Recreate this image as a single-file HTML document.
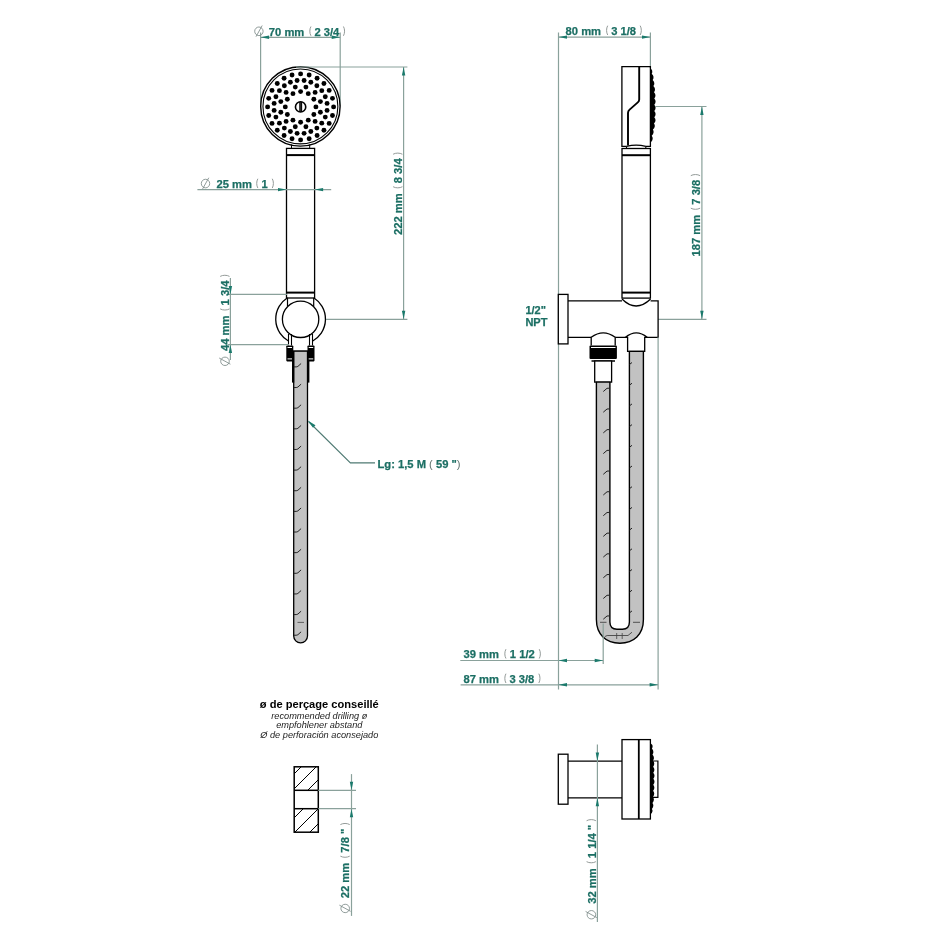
<!DOCTYPE html><html><head><meta charset="utf-8"><style>html,body{margin:0;padding:0;background:#fff;overflow:hidden}svg{display:block;will-change:transform}text{font-family:"Liberation Sans",sans-serif}</style></head><body>
<svg width="936" height="936" viewBox="0 0 936 936">
<rect width="936" height="936" fill="#fff"/>
<line x1="260.60" y1="32.50" x2="260.60" y2="106.00" stroke="#8aa19b" stroke-width="1.20"/>
<line x1="340.20" y1="32.50" x2="340.20" y2="106.00" stroke="#8aa19b" stroke-width="1.20"/>
<line x1="260.60" y1="37.30" x2="340.20" y2="37.30" stroke="#8aa19b" stroke-width="1.20"/>
<polygon points="260.60,37.30 269.10,35.60 269.10,39.00" fill="#1b7a6c"/>
<polygon points="340.20,37.30 331.70,35.60 331.70,39.00" fill="#1b7a6c"/>
<g>
<g fill="none" stroke="#7d8b89" stroke-width="0.85"><ellipse cx="258.90" cy="31.30" rx="4.2" ry="4.3"/><line x1="256.00" y1="36.70" x2="262.20" y2="25.50"/></g>
<text x="268.85" y="35.50" font-size="11.20" font-weight="bold" fill="#1c6f64" stroke="#1c6f64" stroke-width="0.25" xml:space="preserve">70 mm</text>
<path d="M310.94,26.50 C309.44,29.10 309.44,33.20 310.94,35.80" fill="none" stroke="#949b99" stroke-width="1.0"/>
<text x="314.44" y="35.50" font-size="11.20" font-weight="bold" fill="#1c6f64" stroke="#1c6f64" stroke-width="0.25" xml:space="preserve">2 3/4</text>
<path d="M343.45,26.50 C344.95,29.10 344.95,33.20 343.45,35.80" fill="none" stroke="#949b99" stroke-width="1.0"/>
</g>
<circle cx="300.40" cy="106.40" r="39.7" fill="#fff" stroke="#000" stroke-width="1.4"/>
<circle cx="300.40" cy="106.40" r="37.45" fill="none" stroke="#000" stroke-width="1.1"/>
<circle cx="300.60" cy="91.60" r="2.45" fill="#000"/>
<circle cx="308.25" cy="93.65" r="2.45" fill="#000"/>
<circle cx="313.85" cy="99.25" r="2.45" fill="#000"/>
<circle cx="315.90" cy="106.90" r="2.45" fill="#000"/>
<circle cx="313.85" cy="114.55" r="2.45" fill="#000"/>
<circle cx="308.25" cy="120.15" r="2.45" fill="#000"/>
<circle cx="300.60" cy="122.20" r="2.45" fill="#000"/>
<circle cx="292.95" cy="120.15" r="2.45" fill="#000"/>
<circle cx="287.35" cy="114.55" r="2.45" fill="#000"/>
<circle cx="285.30" cy="106.90" r="2.45" fill="#000"/>
<circle cx="287.35" cy="99.25" r="2.45" fill="#000"/>
<circle cx="292.95" cy="93.65" r="2.45" fill="#000"/>
<circle cx="305.91" cy="87.10" r="2.45" fill="#000"/>
<circle cx="315.10" cy="92.40" r="2.45" fill="#000"/>
<circle cx="320.40" cy="101.59" r="2.45" fill="#000"/>
<circle cx="320.40" cy="112.21" r="2.45" fill="#000"/>
<circle cx="315.10" cy="121.40" r="2.45" fill="#000"/>
<circle cx="305.91" cy="126.70" r="2.45" fill="#000"/>
<circle cx="295.29" cy="126.70" r="2.45" fill="#000"/>
<circle cx="286.10" cy="121.40" r="2.45" fill="#000"/>
<circle cx="280.80" cy="112.21" r="2.45" fill="#000"/>
<circle cx="280.80" cy="101.59" r="2.45" fill="#000"/>
<circle cx="286.10" cy="92.40" r="2.45" fill="#000"/>
<circle cx="295.29" cy="87.10" r="2.45" fill="#000"/>
<circle cx="304.09" cy="80.43" r="2.45" fill="#000"/>
<circle cx="310.82" cy="82.23" r="2.45" fill="#000"/>
<circle cx="316.85" cy="85.72" r="2.45" fill="#000"/>
<circle cx="321.78" cy="90.65" r="2.45" fill="#000"/>
<circle cx="325.27" cy="96.68" r="2.45" fill="#000"/>
<circle cx="327.07" cy="103.41" r="2.45" fill="#000"/>
<circle cx="327.07" cy="110.39" r="2.45" fill="#000"/>
<circle cx="325.27" cy="117.12" r="2.45" fill="#000"/>
<circle cx="321.78" cy="123.15" r="2.45" fill="#000"/>
<circle cx="316.85" cy="128.08" r="2.45" fill="#000"/>
<circle cx="310.82" cy="131.57" r="2.45" fill="#000"/>
<circle cx="304.09" cy="133.37" r="2.45" fill="#000"/>
<circle cx="297.11" cy="133.37" r="2.45" fill="#000"/>
<circle cx="290.38" cy="131.57" r="2.45" fill="#000"/>
<circle cx="284.35" cy="128.08" r="2.45" fill="#000"/>
<circle cx="279.42" cy="123.15" r="2.45" fill="#000"/>
<circle cx="275.93" cy="117.12" r="2.45" fill="#000"/>
<circle cx="274.13" cy="110.39" r="2.45" fill="#000"/>
<circle cx="274.13" cy="103.41" r="2.45" fill="#000"/>
<circle cx="275.93" cy="96.68" r="2.45" fill="#000"/>
<circle cx="279.42" cy="90.65" r="2.45" fill="#000"/>
<circle cx="284.35" cy="85.72" r="2.45" fill="#000"/>
<circle cx="290.38" cy="82.23" r="2.45" fill="#000"/>
<circle cx="297.11" cy="80.43" r="2.45" fill="#000"/>
<circle cx="300.60" cy="73.90" r="2.45" fill="#000"/>
<circle cx="309.14" cy="75.02" r="2.45" fill="#000"/>
<circle cx="317.10" cy="78.32" r="2.45" fill="#000"/>
<circle cx="323.93" cy="83.57" r="2.45" fill="#000"/>
<circle cx="329.18" cy="90.40" r="2.45" fill="#000"/>
<circle cx="332.48" cy="98.36" r="2.45" fill="#000"/>
<circle cx="333.60" cy="106.90" r="2.45" fill="#000"/>
<circle cx="332.48" cy="115.44" r="2.45" fill="#000"/>
<circle cx="329.18" cy="123.40" r="2.45" fill="#000"/>
<circle cx="323.93" cy="130.23" r="2.45" fill="#000"/>
<circle cx="317.10" cy="135.48" r="2.45" fill="#000"/>
<circle cx="309.14" cy="138.78" r="2.45" fill="#000"/>
<circle cx="300.60" cy="139.90" r="2.45" fill="#000"/>
<circle cx="292.06" cy="138.78" r="2.45" fill="#000"/>
<circle cx="284.10" cy="135.48" r="2.45" fill="#000"/>
<circle cx="277.27" cy="130.23" r="2.45" fill="#000"/>
<circle cx="272.02" cy="123.40" r="2.45" fill="#000"/>
<circle cx="268.72" cy="115.44" r="2.45" fill="#000"/>
<circle cx="267.60" cy="106.90" r="2.45" fill="#000"/>
<circle cx="268.72" cy="98.36" r="2.45" fill="#000"/>
<circle cx="272.02" cy="90.40" r="2.45" fill="#000"/>
<circle cx="277.27" cy="83.57" r="2.45" fill="#000"/>
<circle cx="284.10" cy="78.32" r="2.45" fill="#000"/>
<circle cx="292.06" cy="75.02" r="2.45" fill="#000"/>
<circle cx="300.60" cy="106.90" r="5.15" fill="#fff" stroke="#000" stroke-width="1.6"/>
<rect x="299.25" y="101.80" width="2.9" height="10.2" fill="#000"/>
<line x1="300.70" y1="102.40" x2="300.70" y2="111.40" stroke="#555" stroke-width="0.60"/>
<line x1="291.50" y1="144.50" x2="291.50" y2="148.40" stroke="#000" stroke-width="1.00"/>
<line x1="309.70" y1="144.50" x2="309.70" y2="148.40" stroke="#000" stroke-width="1.00"/>
<rect x="286.5" y="148.4" width="28.1" height="149.6" fill="#fff" stroke="#000" stroke-width="1.3"/>
<line x1="286.50" y1="155.10" x2="314.60" y2="155.10" stroke="#000" stroke-width="2.00"/>
<line x1="286.50" y1="292.60" x2="314.60" y2="292.60" stroke="#000" stroke-width="2.00"/>
<line x1="197.40" y1="189.60" x2="331.20" y2="189.60" stroke="#8aa19b" stroke-width="1.20"/>
<polygon points="286.50,189.60 278.00,187.90 278.00,191.30" fill="#1b7a6c"/>
<polygon points="314.60,189.60 323.10,187.90 323.10,191.30" fill="#1b7a6c"/>
<g>
<g fill="none" stroke="#7d8b89" stroke-width="0.85"><ellipse cx="205.50" cy="183.55" rx="4.2" ry="4.3"/><line x1="202.60" y1="188.95" x2="208.80" y2="177.75"/></g>
<text x="216.45" y="187.75" font-size="11.20" font-weight="bold" fill="#1c6f64" stroke="#1c6f64" stroke-width="0.25" xml:space="preserve">25 mm</text>
<path d="M257.84,178.75 C256.34,181.35 256.34,185.45 257.84,188.05" fill="none" stroke="#949b99" stroke-width="1.0"/>
<text x="261.54" y="187.75" font-size="11.20" font-weight="bold" fill="#1c6f64" stroke="#1c6f64" stroke-width="0.25" xml:space="preserve">1</text>
<path d="M272.27,178.75 C273.77,181.35 273.77,185.45 272.27,188.05" fill="none" stroke="#949b99" stroke-width="1.0"/>
</g>
<path d="M287.5,297.8 A25.2,25.2 0 0 0 288.8,341.2" fill="none" stroke="#000" stroke-width="1.3"/>
<path d="M313.7,297.8 A25.2,25.2 0 0 1 312.4,341.2" fill="none" stroke="#000" stroke-width="1.3"/>
<line x1="287.50" y1="298.00" x2="287.50" y2="306.50" stroke="#000" stroke-width="1.20"/>
<line x1="313.70" y1="298.00" x2="313.70" y2="306.50" stroke="#000" stroke-width="1.20"/>
<circle cx="300.60" cy="319.30" r="18.2" fill="#fff" stroke="#000" stroke-width="1.3"/>
<line x1="288.50" y1="334.00" x2="288.50" y2="345.50" stroke="#000" stroke-width="1.10"/>
<line x1="291.50" y1="334.00" x2="291.50" y2="345.50" stroke="#000" stroke-width="1.10"/>
<line x1="309.50" y1="334.00" x2="309.50" y2="345.50" stroke="#000" stroke-width="1.10"/>
<line x1="312.50" y1="334.00" x2="312.50" y2="345.50" stroke="#000" stroke-width="1.10"/>
<line x1="292.50" y1="351.20" x2="308.50" y2="351.20" stroke="#000" stroke-width="1.30"/>
<path d="M293.7,351.2 L293.7,636 A6.9,6.9 0 0 0 307.5,636 L307.5,351.2 Z" fill="#c2c2c2" stroke="#000" stroke-width="1.3"/>
<rect x="292.0" y="351" width="2.2" height="31.6" fill="#000"/>
<rect x="307.2" y="351" width="2.2" height="31.6" fill="#000"/>
<rect x="286.30" y="345.4" width="7.0" height="16.0" rx="0.8" fill="#000"/>
<rect x="287.50" y="347.0" width="4.5" height="1.0" fill="#fff"/>
<rect x="287.50" y="358.4" width="4.5" height="1.0" fill="#fff"/>
<rect x="307.50" y="345.4" width="7.0" height="16.0" rx="0.8" fill="#000"/>
<rect x="308.70" y="347.0" width="4.5" height="1.0" fill="#fff"/>
<rect x="308.70" y="358.4" width="4.5" height="1.0" fill="#fff"/>
<path d="M294,366.90 L296.2,366.90 Q297.2,366.90 298,366.30 L301.1,363.50" fill="none" stroke="#222" stroke-width="1.0"/>
<path d="M294,387.54 L296.2,387.54 Q297.2,387.54 298,386.94 L301.1,384.14" fill="none" stroke="#222" stroke-width="1.0"/>
<path d="M294,408.18 L296.2,408.18 Q297.2,408.18 298,407.58 L301.1,404.78" fill="none" stroke="#222" stroke-width="1.0"/>
<path d="M294,428.82 L296.2,428.82 Q297.2,428.82 298,428.22 L301.1,425.42" fill="none" stroke="#222" stroke-width="1.0"/>
<path d="M294,449.46 L296.2,449.46 Q297.2,449.46 298,448.86 L301.1,446.06" fill="none" stroke="#222" stroke-width="1.0"/>
<path d="M294,470.10 L296.2,470.10 Q297.2,470.10 298,469.50 L301.1,466.70" fill="none" stroke="#222" stroke-width="1.0"/>
<path d="M294,490.74 L296.2,490.74 Q297.2,490.74 298,490.14 L301.1,487.34" fill="none" stroke="#222" stroke-width="1.0"/>
<path d="M294,511.38 L296.2,511.38 Q297.2,511.38 298,510.78 L301.1,507.98" fill="none" stroke="#222" stroke-width="1.0"/>
<path d="M294,532.02 L296.2,532.02 Q297.2,532.02 298,531.42 L301.1,528.62" fill="none" stroke="#222" stroke-width="1.0"/>
<path d="M294,552.66 L296.2,552.66 Q297.2,552.66 298,552.06 L301.1,549.26" fill="none" stroke="#222" stroke-width="1.0"/>
<path d="M294,573.30 L296.2,573.30 Q297.2,573.30 298,572.70 L301.1,569.90" fill="none" stroke="#222" stroke-width="1.0"/>
<path d="M294,593.94 L296.2,593.94 Q297.2,593.94 298,593.34 L301.1,590.54" fill="none" stroke="#222" stroke-width="1.0"/>
<path d="M294,614.58 L296.2,614.58 Q297.2,614.58 298,613.98 L301.1,611.18" fill="none" stroke="#222" stroke-width="1.0"/>
<path d="M294,635.22 L296.2,635.22 Q297.2,635.22 298,634.62 L301.1,631.82" fill="none" stroke="#222" stroke-width="1.0"/>
<line x1="297.50" y1="622.40" x2="304.00" y2="622.40" stroke="#444" stroke-width="0.80"/>
<polyline points="308.5,421.5 350.4,462.9 375,462.9" fill="none" stroke="#4f7a73" stroke-width="1.1"/>
<polygon points="307.7,420.6 315.5,425.3 313.0,427.8" fill="#1b7a6c"/>
<text x="377.5" y="467.7" font-size="11.2" font-weight="bold" fill="#1c6f64" stroke="#1c6f64" stroke-width="0.25" xml:space="preserve">Lg: 1,5 M <tspan font-weight="normal" fill="#5f726e" stroke="none">(</tspan> 59 &quot;<tspan font-weight="normal" fill="#5f726e" stroke="none">)</tspan></text>
<line x1="296.00" y1="67.00" x2="407.40" y2="67.00" stroke="#8aa19b" stroke-width="1.20"/>
<line x1="326.00" y1="319.30" x2="407.40" y2="319.30" stroke="#8aa19b" stroke-width="1.20"/>
<line x1="403.60" y1="67.00" x2="403.60" y2="319.30" stroke="#8aa19b" stroke-width="1.20"/>
<polygon points="403.60,67.00 401.90,75.50 405.30,75.50" fill="#1b7a6c"/>
<polygon points="403.60,319.30 401.90,310.80 405.30,310.80" fill="#1b7a6c"/>
<g transform="translate(402.10,235.05) rotate(-90)">
<text x="0.00" y="0.00" font-size="11.20" font-weight="bold" fill="#1c6f64" stroke="#1c6f64" stroke-width="0.25" xml:space="preserve">222 mm</text>
<path d="M48.32,-9.00 C46.82,-6.40 46.82,-2.30 48.32,0.30" fill="none" stroke="#949b99" stroke-width="1.0"/>
<text x="51.82" y="0.00" font-size="11.20" font-weight="bold" fill="#1c6f64" stroke="#1c6f64" stroke-width="0.25" xml:space="preserve">8 3/4</text>
<path d="M80.83,-9.00 C82.33,-6.40 82.33,-2.30 80.83,0.30" fill="none" stroke="#949b99" stroke-width="1.0"/>
</g>
<line x1="230.40" y1="277.90" x2="230.40" y2="360.00" stroke="#8aa19b" stroke-width="1.20"/>
<line x1="228.00" y1="294.40" x2="287.00" y2="294.40" stroke="#8aa19b" stroke-width="1.20"/>
<line x1="228.00" y1="344.60" x2="289.00" y2="344.60" stroke="#8aa19b" stroke-width="1.20"/>
<polygon points="230.40,294.40 228.70,285.90 232.10,285.90" fill="#1b7a6c"/>
<polygon points="230.40,344.60 228.70,353.10 232.10,353.10" fill="#1b7a6c"/>
<g transform="translate(229.20,351.00) rotate(-90)">
<g fill="none" stroke="#7d8b89" stroke-width="0.85"><ellipse cx="-10.30" cy="-4.20" rx="4.2" ry="4.3"/><line x1="-13.20" y1="1.20" x2="-7.00" y2="-10.00"/></g>
<text x="0.00" y="0.00" font-size="11.20" font-weight="bold" fill="#1c6f64" stroke="#1c6f64" stroke-width="0.25" xml:space="preserve">44 mm</text>
<path d="M42.09,-9.00 C40.59,-6.40 40.59,-2.30 42.09,0.30" fill="none" stroke="#949b99" stroke-width="1.0"/>
<text x="45.59" y="0.00" font-size="11.20" font-weight="bold" fill="#1c6f64" stroke="#1c6f64" stroke-width="0.25" xml:space="preserve">1 3/4</text>
<path d="M74.60,-9.00 C76.10,-6.40 76.10,-2.30 74.60,0.30" fill="none" stroke="#949b99" stroke-width="1.0"/>
</g>
<text x="319.3" y="707.6" font-size="11.1" font-weight="bold" text-anchor="middle" fill="#000">ø de perçage conseillé</text>
<text x="319.3" y="718.5" font-size="9.2" font-style="italic" text-anchor="middle" fill="#222">recommended drilling ø</text>
<text x="319.3" y="728.3" font-size="9.2" font-style="italic" text-anchor="middle" fill="#222">empfohlener abstand</text>
<text x="319.3" y="738.2" font-size="9.2" font-style="italic" text-anchor="middle" fill="#222">Ø de perforación aconsejado</text>
<clipPath id="c1"><rect x="294.2" y="766.8" width="24.1" height="23.5"/><rect x="294.2" y="808.7" width="24.1" height="23.5"/></clipPath>
<g clip-path="url(#c1)" stroke="#000" stroke-width="1.0"><line x1="328.00" y1="740.00" x2="208.00" y2="860.00"/><line x1="343.00" y1="740.00" x2="223.00" y2="860.00"/><line x1="358.00" y1="740.00" x2="238.00" y2="860.00"/><line x1="372.00" y1="740.00" x2="252.00" y2="860.00"/><line x1="387.00" y1="740.00" x2="267.00" y2="860.00"/><line x1="402.00" y1="740.00" x2="282.00" y2="860.00"/></g>
<rect x="294.2" y="766.8" width="24.1" height="65.4" fill="none" stroke="#000" stroke-width="1.5"/>
<line x1="294.20" y1="790.30" x2="318.30" y2="790.30" stroke="#000" stroke-width="1.50"/>
<line x1="294.20" y1="808.70" x2="318.30" y2="808.70" stroke="#000" stroke-width="1.50"/>
<line x1="318.30" y1="790.30" x2="356.00" y2="790.30" stroke="#8aa19b" stroke-width="1.20"/>
<line x1="318.30" y1="808.70" x2="356.00" y2="808.70" stroke="#8aa19b" stroke-width="1.20"/>
<line x1="351.50" y1="774.10" x2="351.50" y2="915.90" stroke="#8aa19b" stroke-width="1.20"/>
<polygon points="351.50,790.30 349.80,781.80 353.20,781.80" fill="#1b7a6c"/>
<polygon points="351.50,808.70 349.80,817.20 353.20,817.20" fill="#1b7a6c"/>
<g transform="translate(349.40,898.25) rotate(-90)">
<g fill="none" stroke="#7d8b89" stroke-width="0.85"><ellipse cx="-10.20" cy="-4.20" rx="4.2" ry="4.3"/><line x1="-13.10" y1="1.20" x2="-6.90" y2="-10.00"/></g>
<text x="0.00" y="0.00" font-size="11.20" font-weight="bold" fill="#1c6f64" stroke="#1c6f64" stroke-width="0.25" xml:space="preserve">22 mm</text>
<path d="M42.09,-9.00 C40.59,-6.40 40.59,-2.30 42.09,0.30" fill="none" stroke="#949b99" stroke-width="1.0"/>
<text x="45.59" y="0.00" font-size="11.20" font-weight="bold" fill="#1c6f64" stroke="#1c6f64" stroke-width="0.25" xml:space="preserve">7/8 "</text>
<path d="M73.68,-9.00 C75.18,-6.40 75.18,-2.30 73.68,0.30" fill="none" stroke="#949b99" stroke-width="1.0"/>
</g>
<line x1="558.50" y1="32.60" x2="558.50" y2="689.40" stroke="#8aa19b" stroke-width="1.20"/>
<line x1="650.40" y1="32.60" x2="650.40" y2="66.70" stroke="#8aa19b" stroke-width="1.20"/>
<line x1="558.50" y1="37.10" x2="650.50" y2="37.10" stroke="#8aa19b" stroke-width="1.20"/>
<polygon points="558.50,37.10 567.00,35.40 567.00,38.80" fill="#1b7a6c"/>
<polygon points="650.50,37.10 642.00,35.40 642.00,38.80" fill="#1b7a6c"/>
<g>
<text x="565.60" y="34.70" font-size="11.20" font-weight="bold" fill="#1c6f64" stroke="#1c6f64" stroke-width="0.25" xml:space="preserve">80 mm</text>
<path d="M607.69,25.70 C606.19,28.30 606.19,32.40 607.69,35.00" fill="none" stroke="#949b99" stroke-width="1.0"/>
<text x="611.19" y="34.70" font-size="11.20" font-weight="bold" fill="#1c6f64" stroke="#1c6f64" stroke-width="0.25" xml:space="preserve">3 1/8</text>
<path d="M640.20,25.70 C641.70,28.30 641.70,32.40 640.20,35.00" fill="none" stroke="#949b99" stroke-width="1.0"/>
</g>
<path d="M626.5,146.4 L621.9,146.4 L621.9,66.7 L650.4,66.7 L650.4,146.4 L645.8,146.4" fill="#fff" stroke="#000" stroke-width="1.3"/>
<path d="M639.2,66.7 L639.2,99.5 Q639.2,101.2 637.8,102.4 L629.6,109.6 Q628,111 628,113 L628,145.6" fill="none" stroke="#000" stroke-width="1.9"/>
<path d="M650.00,67.50 L649.60,67.50 Q653.60,70.60 651.74,73.71 L651.74,73.71 Q654.81,76.81 652.69,79.92 L652.69,79.92 Q655.63,83.02 653.36,86.12 L653.36,86.12 Q656.30,89.23 654.02,92.33 L654.02,92.33 Q656.77,95.44 654.30,98.54 L654.30,98.54 Q656.90,101.65 654.30,104.75 L654.30,104.75 Q656.90,107.85 654.30,110.96 L654.30,110.96 Q656.90,114.06 654.30,117.17 L654.30,117.17 Q656.90,120.27 654.05,123.37 L654.05,123.38 Q656.09,126.48 652.88,129.58 L652.88,129.58 Q654.86,132.69 651.72,135.79 L651.72,135.79 Q654.01,138.90 651.10,142.00 L650.00,142.00 Z" fill="#000"/>
<path d="M626.5,146.4 Q636.2,143.8 645.8,146.4" fill="none" stroke="#000" stroke-width="1.2"/>
<line x1="626.50" y1="146.30" x2="626.50" y2="148.70" stroke="#000" stroke-width="1.10"/>
<line x1="645.80" y1="146.30" x2="645.80" y2="148.70" stroke="#000" stroke-width="1.10"/>
<rect x="622.0" y="148.5" width="28.4" height="149.6" fill="#fff" stroke="#000" stroke-width="1.3"/>
<line x1="622.00" y1="155.20" x2="650.40" y2="155.20" stroke="#000" stroke-width="2.00"/>
<line x1="622.00" y1="292.60" x2="650.40" y2="292.60" stroke="#000" stroke-width="2.00"/>
<line x1="655.00" y1="106.50" x2="706.50" y2="106.50" stroke="#8aa19b" stroke-width="1.20"/>
<line x1="658.10" y1="319.30" x2="706.50" y2="319.30" stroke="#8aa19b" stroke-width="1.20"/>
<line x1="701.90" y1="106.50" x2="701.90" y2="319.30" stroke="#8aa19b" stroke-width="1.20"/>
<polygon points="701.90,106.50 700.20,115.00 703.60,115.00" fill="#1b7a6c"/>
<polygon points="701.90,319.30 700.20,310.80 703.60,310.80" fill="#1b7a6c"/>
<g transform="translate(699.80,256.50) rotate(-90)">
<text x="0.00" y="0.00" font-size="11.20" font-weight="bold" fill="#1c6f64" stroke="#1c6f64" stroke-width="0.25" xml:space="preserve">187 mm</text>
<path d="M48.32,-9.00 C46.82,-6.40 46.82,-2.30 48.32,0.30" fill="none" stroke="#949b99" stroke-width="1.0"/>
<text x="51.82" y="0.00" font-size="11.20" font-weight="bold" fill="#1c6f64" stroke="#1c6f64" stroke-width="0.25" xml:space="preserve">7 3/8</text>
<path d="M80.83,-9.00 C82.33,-6.40 82.33,-2.30 80.83,0.30" fill="none" stroke="#949b99" stroke-width="1.0"/>
</g>
<rect x="558.3" y="294.4" width="9.7" height="49.5" fill="#fff" stroke="#000" stroke-width="1.3"/>
<path d="M568,300.8 L622,300.8 M650.6,300.8 L658.1,300.8 L658.1,337.3 L647.2,337.3 M625.4,337.3 L615.2,337.3 M591.2,337.3 L568,337.3" fill="none" stroke="#000" stroke-width="1.3"/>
<path d="M622,299 Q636,313 650.6,299" fill="none" stroke="#000" stroke-width="1.3"/>
<path d="M591.2,345.4 L591.2,337.3 Q603.2,328.5 615.2,337.3 L615.2,345.4" fill="#fff" stroke="#000" stroke-width="1.3"/>
<rect x="589.5" y="345.4" width="27.4" height="13.5" rx="1" fill="#000"/>
<rect x="591" y="347.0" width="24.5" height="1.0" fill="#fff"/>
<line x1="591.50" y1="361.00" x2="615.00" y2="361.00" stroke="#000" stroke-width="1.50"/>
<rect x="594.7" y="361.0" width="16.9" height="21.1" fill="#fff" stroke="#000" stroke-width="1.3"/>
<path d="M627.6,351.4 L627.6,337.3 Q625.4,337.3 625.4,337.3 Q636.3,328.5 647.2,337.3 L644.7,337.3 L644.7,351.4 Z" fill="#fff" stroke="#000" stroke-width="1.3"/>
<path d="M596.4,382.1 L596.4,619.6 C596.4,634.6 606.0,643.2 619.9,643.2 C633.8,643.2 643.4,634.6 643.4,619.6 L643.4,351.4 L629.4,351.4 L629.4,622.0 Q629.4,629.2 622.4,629.2 L617.0,629.2 Q609.9,629.2 609.9,622.0 L609.9,382.1 Z" fill="#c2c2c2" stroke="#000" stroke-width="1.4"/>
<path d="M609.3,388.20 L607.0,388.30 L603.3,391.50" fill="none" stroke="#222" stroke-width="1.0"/>
<path d="M609.3,408.90 L607.0,409.00 L603.3,412.20" fill="none" stroke="#222" stroke-width="1.0"/>
<path d="M609.3,429.60 L607.0,429.70 L603.3,432.90" fill="none" stroke="#222" stroke-width="1.0"/>
<path d="M609.3,450.30 L607.0,450.40 L603.3,453.60" fill="none" stroke="#222" stroke-width="1.0"/>
<path d="M609.3,471.00 L607.0,471.10 L603.3,474.30" fill="none" stroke="#222" stroke-width="1.0"/>
<path d="M609.3,491.70 L607.0,491.80 L603.3,495.00" fill="none" stroke="#222" stroke-width="1.0"/>
<path d="M609.3,512.40 L607.0,512.50 L603.3,515.70" fill="none" stroke="#222" stroke-width="1.0"/>
<path d="M609.3,533.10 L607.0,533.20 L603.3,536.40" fill="none" stroke="#222" stroke-width="1.0"/>
<path d="M609.3,553.80 L607.0,553.90 L603.3,557.10" fill="none" stroke="#222" stroke-width="1.0"/>
<path d="M609.3,574.50 L607.0,574.60 L603.3,577.80" fill="none" stroke="#222" stroke-width="1.0"/>
<path d="M609.3,595.20 L607.0,595.30 L603.3,598.50" fill="none" stroke="#222" stroke-width="1.0"/>
<path d="M609.3,615.90 L607.0,616.00 L603.3,619.20" fill="none" stroke="#222" stroke-width="1.0"/>
<path d="M629.6,364.40 L632.0,362.50" fill="none" stroke="#222" stroke-width="1.0"/>
<path d="M629.6,385.10 L632.0,383.20" fill="none" stroke="#222" stroke-width="1.0"/>
<path d="M629.6,405.80 L632.0,403.90" fill="none" stroke="#222" stroke-width="1.0"/>
<path d="M629.6,426.50 L632.0,424.60" fill="none" stroke="#222" stroke-width="1.0"/>
<path d="M629.6,447.20 L632.0,445.30" fill="none" stroke="#222" stroke-width="1.0"/>
<path d="M629.6,467.90 L632.0,466.00" fill="none" stroke="#222" stroke-width="1.0"/>
<path d="M629.6,488.60 L632.0,486.70" fill="none" stroke="#222" stroke-width="1.0"/>
<path d="M629.6,509.30 L632.0,507.40" fill="none" stroke="#222" stroke-width="1.0"/>
<path d="M629.6,530.00 L632.0,528.10" fill="none" stroke="#222" stroke-width="1.0"/>
<path d="M629.6,550.70 L632.0,548.80" fill="none" stroke="#222" stroke-width="1.0"/>
<path d="M629.6,571.40 L632.0,569.50" fill="none" stroke="#222" stroke-width="1.0"/>
<path d="M629.6,592.10 L632.0,590.20" fill="none" stroke="#222" stroke-width="1.0"/>
<path d="M629.6,612.80 L632.0,610.90" fill="none" stroke="#222" stroke-width="1.0"/>
<line x1="600.00" y1="622.30" x2="606.50" y2="622.30" stroke="#333" stroke-width="0.80"/>
<line x1="633.00" y1="622.30" x2="640.00" y2="622.30" stroke="#333" stroke-width="0.80"/>
<polyline points="604.8,636.6 607.2,635.5 628,635.5 632,632.2" fill="none" stroke="#333" stroke-width="0.8"/>
<line x1="616.70" y1="633.00" x2="616.70" y2="639.00" stroke="#444" stroke-width="0.80"/>
<line x1="622.20" y1="633.00" x2="622.20" y2="639.00" stroke="#444" stroke-width="0.80"/>
<text x="525.4" y="313.9" font-size="11.0" font-weight="bold" fill="#1c6f64" stroke="#1c6f64" stroke-width="0.25">1/2"</text>
<text x="525.4" y="325.6" font-size="11.0" font-weight="bold" fill="#1c6f64" stroke="#1c6f64" stroke-width="0.25">NPT</text>
<line x1="603.20" y1="623.60" x2="603.20" y2="664.00" stroke="#8aa19b" stroke-width="1.20"/>
<line x1="658.10" y1="337.30" x2="658.10" y2="689.40" stroke="#8aa19b" stroke-width="1.20"/>
<line x1="460.30" y1="660.50" x2="603.20" y2="660.50" stroke="#8aa19b" stroke-width="1.20"/>
<polygon points="558.50,660.50 567.00,658.80 567.00,662.20" fill="#1b7a6c"/>
<polygon points="603.20,660.50 594.70,658.80 594.70,662.20" fill="#1b7a6c"/>
<g>
<text x="463.55" y="658.20" font-size="11.20" font-weight="bold" fill="#1c6f64" stroke="#1c6f64" stroke-width="0.25" xml:space="preserve">39 mm</text>
<path d="M505.94,649.20 C504.44,651.80 504.44,655.90 505.94,658.50" fill="none" stroke="#949b99" stroke-width="1.0"/>
<text x="509.84" y="658.20" font-size="11.20" font-weight="bold" fill="#1c6f64" stroke="#1c6f64" stroke-width="0.25" xml:space="preserve">1 1/2</text>
<path d="M539.25,649.20 C540.75,651.80 540.75,655.90 539.25,658.50" fill="none" stroke="#949b99" stroke-width="1.0"/>
</g>
<line x1="460.60" y1="684.80" x2="658.10" y2="684.80" stroke="#8aa19b" stroke-width="1.20"/>
<polygon points="558.50,684.80 567.00,683.10 567.00,686.50" fill="#1b7a6c"/>
<polygon points="658.10,684.80 649.60,683.10 649.60,686.50" fill="#1b7a6c"/>
<g>
<text x="463.55" y="682.70" font-size="11.20" font-weight="bold" fill="#1c6f64" stroke="#1c6f64" stroke-width="0.25" xml:space="preserve">87 mm</text>
<path d="M505.94,673.70 C504.44,676.30 504.44,680.40 505.94,683.00" fill="none" stroke="#949b99" stroke-width="1.0"/>
<text x="509.44" y="682.70" font-size="11.20" font-weight="bold" fill="#1c6f64" stroke="#1c6f64" stroke-width="0.25" xml:space="preserve">3 3/8</text>
<path d="M538.85,673.70 C540.35,676.30 540.35,680.40 538.85,683.00" fill="none" stroke="#949b99" stroke-width="1.0"/>
</g>
<rect x="558.3" y="754.2" width="9.7" height="50.0" fill="#fff" stroke="#000" stroke-width="1.3"/>
<line x1="568.00" y1="761.10" x2="622.20" y2="761.10" stroke="#000" stroke-width="1.30"/>
<line x1="568.00" y1="797.80" x2="622.20" y2="797.80" stroke="#000" stroke-width="1.30"/>
<rect x="622.0" y="739.6" width="28.4" height="79.4" fill="#fff" stroke="#000" stroke-width="1.3"/>
<line x1="638.80" y1="739.60" x2="638.80" y2="819.00" stroke="#000" stroke-width="1.80"/>
<path d="M650.20,742.50 L649.80,742.50 Q653.98,745.52 651.93,748.54 L651.93,748.54 Q654.55,751.56 652.49,754.58 L652.49,754.58 Q655.12,757.60 653.01,760.62 L653.01,760.62 Q655.42,763.65 653.15,766.67 L653.15,766.67 Q655.56,769.69 653.28,772.71 L653.28,772.71 Q655.69,775.73 653.38,778.75 L653.38,778.75 Q655.66,781.77 653.26,784.79 L653.26,784.79 Q655.53,787.81 653.13,790.83 L653.13,790.83 Q655.41,793.85 653.00,796.88 L653.00,796.88 Q655.07,799.90 652.45,802.92 L652.45,802.92 Q654.50,805.94 651.88,808.96 L651.88,808.96 Q653.94,811.98 649.80,815.00 L650.20,815.00 Z" fill="#000"/>
<path d="M653.0,761.0 L657.9,761.0 L657.9,797.3 L653.0,797.3" fill="none" stroke="#000" stroke-width="1.2"/>
<line x1="597.40" y1="744.40" x2="597.40" y2="922.10" stroke="#8aa19b" stroke-width="1.20"/>
<polygon points="597.40,761.10 595.70,752.60 599.10,752.60" fill="#1b7a6c"/>
<polygon points="597.40,797.80 595.70,806.30 599.10,806.30" fill="#1b7a6c"/>
<g transform="translate(595.60,903.75) rotate(-90)">
<g fill="none" stroke="#7d8b89" stroke-width="0.85"><ellipse cx="-11.00" cy="-4.20" rx="4.2" ry="4.3"/><line x1="-13.90" y1="1.20" x2="-7.70" y2="-10.00"/></g>
<text x="0.00" y="0.00" font-size="11.20" font-weight="bold" fill="#1c6f64" stroke="#1c6f64" stroke-width="0.25" xml:space="preserve">32 mm</text>
<path d="M42.09,-9.00 C40.59,-6.40 40.59,-2.30 42.09,0.30" fill="none" stroke="#949b99" stroke-width="1.0"/>
<text x="45.59" y="0.00" font-size="11.20" font-weight="bold" fill="#1c6f64" stroke="#1c6f64" stroke-width="0.25" xml:space="preserve">1 1/4 "</text>
<path d="M83.02,-9.00 C84.52,-6.40 84.52,-2.30 83.02,0.30" fill="none" stroke="#949b99" stroke-width="1.0"/>
</g>
</svg></body></html>
